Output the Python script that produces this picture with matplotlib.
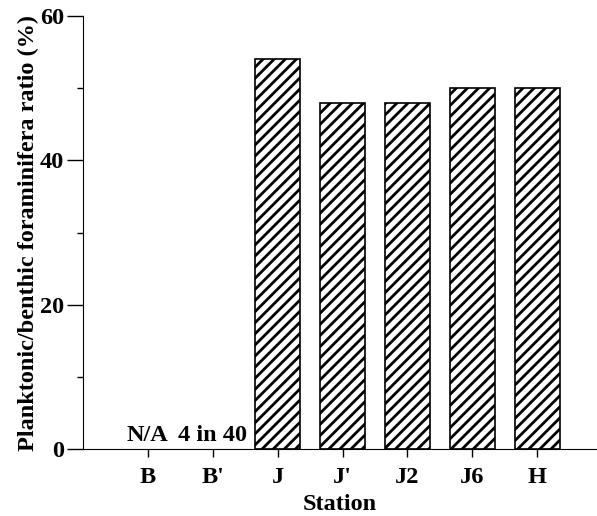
import matplotlib
matplotlib.use("Agg")
from matplotlib import pyplot as plt
from matplotlib.ticker import MultipleLocator

stations = ["B", "B'", "J", "J'", "J2", "J6", "H"]
ratios = [0, 0, 54, 48, 48, 50, 50]
notes = {"B": "N/A", "B'": "4 in 40"}

plt.rcParams["font.family"] = ["Liberation Serif", "DejaVu Serif"]
plt.rcParams["font.weight"] = "bold"
plt.rcParams["hatch.linewidth"] = 2.0

fs = 17.5

fig = plt.figure(figsize=(5.97, 5.16), dpi=100)
ax = fig.add_axes([0.139, 0.1298, 0.861, 0.8392])

x = list(range(len(stations)))
plot_x = [i for i, v in zip(x, ratios) if v > 0]
plot_v = [v for v in ratios if v > 0]
ax.bar(plot_x, plot_v, width=0.7, facecolor="white", edgecolor="black",
       hatch="///", linewidth=1.2)

for i, s in enumerate(stations):
    if s in notes:
        ax.text(i, 0.4, notes[s], ha="center", va="bottom", fontsize=fs,
                fontweight="bold")

ax.set_xlim(-1, 6.92)
ax.set_ylim(0, 60)
ax.set_xticks(x)
ax.set_xticklabels(stations, fontsize=fs, fontweight="bold")
ax.yaxis.set_major_locator(MultipleLocator(20))
ax.yaxis.set_minor_locator(MultipleLocator(10))
ax.tick_params(axis="y", which="major", length=11.5, width=1, labelsize=fs, pad=2)
ax.tick_params(axis="y", which="minor", length=4.3, width=1)
ax.tick_params(axis="x", which="major", length=6, width=1, pad=7)
for lab in ax.get_yticklabels():
    lab.set_fontweight("bold")

ax.spines["top"].set_visible(False)
ax.spines["right"].set_visible(False)
ax.set_xlabel("Station", fontsize=fs, fontweight="bold", labelpad=4)
ax.set_ylabel("Planktonic/benthic foraminifera ratio (%)", fontsize=fs,
              fontweight="bold", labelpad=1)

fig.savefig("out.png", dpi=100)
